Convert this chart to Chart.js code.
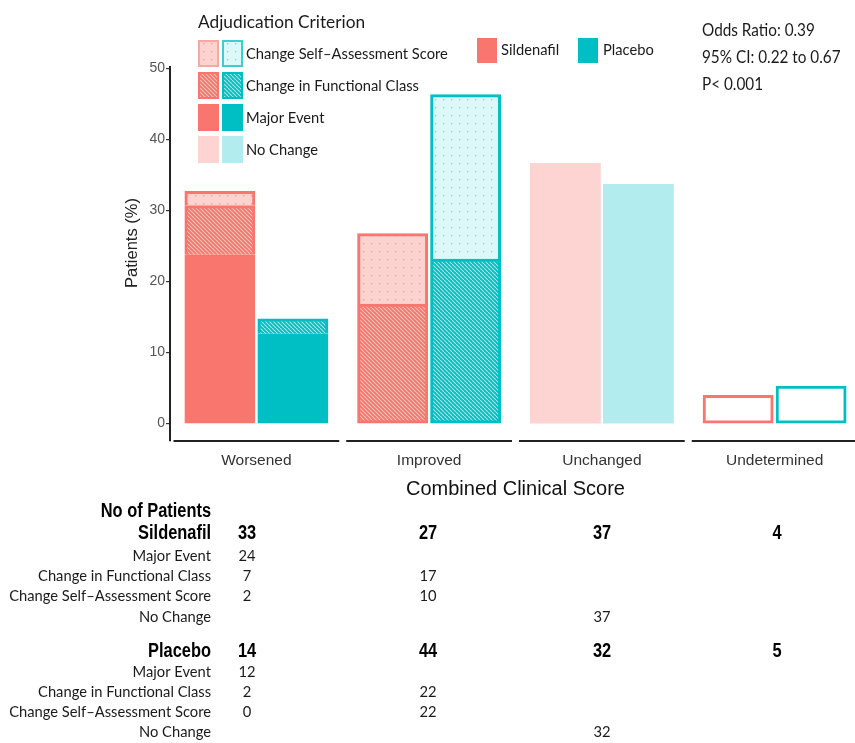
<!DOCTYPE html>
<html>
<head>
<meta charset="utf-8">
<script src="https://cdn.jsdelivr.net/npm/chart.js@4.4.1/dist/chart.umd.min.js"></script>
<style>
  html, body { margin: 0; padding: 0; background: #ffffff; overflow: hidden; }
  #wrap { position: absolute; left: 0; top: 0; width: 862px; height: 743px; }
</style>
</head>
<body>
<div id="wrap"><canvas id="chart" width="862" height="743"></canvas></div>
<script>
// ---- Data -------------------------------------------------------------
const categories = ['Worsened', 'Improved', 'Unchanged', 'Undetermined'];

// Number of patients, Sildenafil arm
const sildenafilTotal          = [33, 27, 37, 4];
const sildenafilMajorEvent     = [24, null, null, null];
const sildenafilFunctional     = [7, 17, null, null];
const sildenafilSelfAssessment = [2, 10, null, null];
const sildenafilNoChange       = [null, null, 37, null];
const sildenafilUndetermined   = [null, null, null, 4];

// Number of patients, Placebo arm
const placeboTotal          = [14, 44, 32, 5];
const placeboMajorEvent     = [12, null, null, null];
const placeboFunctional     = [2, 22, null, null];
const placeboSelfAssessment = [0, 22, null, null];
const placeboNoChange       = [null, null, 32, null];
const placeboUndetermined   = [null, null, null, 5];

const yTicks = [0, 10, 20, 30, 40, 50];
const criteriaLegend = ['Change Self\u2013Assessment Score', 'Change in Functional Class', 'Major Event', 'No Change'];
const tableRows = ['Major Event', 'Change in Functional Class', 'Change Self\u2013Assessment Score', 'No Change'];
const armNames = ['Sildenafil', 'Placebo'];
const oddsLines = ['Odds Ratio: 0.39', '95% CI: 0.22 to 0.67', 'P< 0.001'];

// ---- Styling ----------------------------------------------------------
const SIL = '#F8766D', PLA = '#00BFC4';
const SIL_LIGHT = '#FDD4D1', PLA_LIGHT = '#B3ECEE';
const HUMANIST = 'Lato, "Open Sans", sans-serif';
const ARIAL = '"Liberation Sans", Arial, sans-serif';
const TEXT = '#1a1a1a';
const HUM_SX = 0.92;   // horizontal squeeze for the condensed humanist labels

const scratch = document.createElement('canvas').getContext('2d');
function hasFont(name) {
  const s = 'No of Patients 0123456789';
  scratch.font = '20px monospace'; const a = scratch.measureText(s).width;
  scratch.font = '20px "' + name + '", monospace'; const b = scratch.measureText(s).width;
  scratch.font = '20px serif'; const c = scratch.measureText(s).width;
  scratch.font = '20px "' + name + '", serif'; const d = scratch.measureText(s).width;
  return a !== b || c !== d;
}
const NARROW_OK = hasFont('Liberation Sans Narrow');
const NARROW_FAMILY = NARROW_OK ? '"Liberation Sans Narrow"' : '"Liberation Sans", Arial';
const NARROW_SX = NARROW_OK ? 1 : 0.82;

function hatch(base, line) {
  const s = 4;
  const c = document.createElement('canvas');
  c.width = c.height = s;
  const g = c.getContext('2d');
  g.fillStyle = base; g.fillRect(0, 0, s, s);
  g.strokeStyle = line; g.lineWidth = 1.1;
  g.beginPath();
  for (const o of [-s, 0, s]) { g.moveTo(o, 0); g.lineTo(o + s, s); }
  g.stroke();
  return g.createPattern(c, 'repeat');
}
function dots(base, dot) {
  const s = 8;
  const c = document.createElement('canvas');
  c.width = c.height = s;
  const g = c.getContext('2d');
  g.fillStyle = base; g.fillRect(0, 0, s, s);
  g.fillStyle = dot; g.fillRect(3, 3, 1.4, 1.4);
  return g.createPattern(c, 'repeat');
}

const fills = {
  sil: { major: SIL, functional: hatch(SIL, '#FBC0BB'), self: dots('#FDD3D0', '#F19E98'), none: SIL_LIGHT, undet: '#ffffff' },
  pla: { major: PLA, functional: hatch(PLA, '#A3E6E8'), self: dots('#DDF8F9', '#86D5D8'), none: PLA_LIGHT, undet: '#ffffff' }
};

// ---- Datasets ---------------------------------------------------------
function armSize(totals) { return totals.reduce((a, b) => a + b, 0); }
const silN = armSize(sildenafilTotal);
const plaN = armSize(placeboTotal);
const toPct = (arr, n) => arr.map(v => (v == null || v === 0) ? null : v / n * 100);

function armDatasets(arm, stack, color, layers, n) {
  // layers listed bottom to top; a segment drops its bottom edge when something sits below it
  return layers.map((layer, li) => ({
    label: arm + ' ' + layer.name,
    stack: stack,
    data: toPct(layer.counts, n),
    backgroundColor: layer.fill,
    borderColor: color,
    borderSkipped: false,
    borderWidth: (ctx) => {
      if (layer.plain) return 0;
      const i = ctx.dataIndex;
      const below = layers.slice(0, li).some(l => l.counts[i]);
      return { top: 3, left: 3, right: 3, bottom: below ? 0 : 3 };
    },
    inflateAmount: 0.4,
    categoryPercentage: 0.845,
    barPercentage: 0.96
  }));
}

const datasets = [
  ...armDatasets('Sildenafil', 'sil', SIL, [
    { name: 'Major Event', counts: sildenafilMajorEvent, fill: fills.sil.major },
    { name: 'Change in Functional Class', counts: sildenafilFunctional, fill: fills.sil.functional },
    { name: 'Change Self-Assessment Score', counts: sildenafilSelfAssessment, fill: fills.sil.self },
    { name: 'No Change', counts: sildenafilNoChange, fill: fills.sil.none, plain: true },
    { name: 'Undetermined', counts: sildenafilUndetermined, fill: fills.sil.undet }
  ], silN),
  ...armDatasets('Placebo', 'pla', PLA, [
    { name: 'Major Event', counts: placeboMajorEvent, fill: fills.pla.major },
    { name: 'Change in Functional Class', counts: placeboFunctional, fill: fills.pla.functional },
    { name: 'Change Self-Assessment Score', counts: placeboSelfAssessment, fill: fills.pla.self },
    { name: 'No Change', counts: placeboNoChange, fill: fills.pla.none, plain: true },
    { name: 'Undetermined', counts: placeboUndetermined, fill: fills.pla.undet }
  ], plaN)
];

// ---- Drawing helpers ----------------------------------------------------
function text(ctx, str, x, y, font, color, align, sx) {
  ctx.save();
  ctx.font = font;
  ctx.fillStyle = color;
  ctx.textBaseline = 'middle';
  ctx.textAlign = align || 'left';
  if (sx && sx !== 1) {
    ctx.translate(x, y); ctx.scale(sx, 1); ctx.fillText(str, 0, 0);
  } else {
    ctx.fillText(str, x, y);
  }
  ctx.restore();
}
function key(ctx, x, y, w, h, fill, border, bw) {
  ctx.save();
  if (bw) {
    ctx.fillStyle = border; ctx.fillRect(x, y, w, h);
    ctx.fillStyle = fill; ctx.fillRect(x + bw, y + bw, w - 2 * bw, h - 2 * bw);
  } else {
    ctx.fillStyle = fill; ctx.fillRect(x, y, w, h);
  }
  ctx.restore();
}

// Per-category x axis segments, one per outcome panel
const panelAxes = {
  id: 'panelAxes',
  afterDatasetsDraw(chart) {
    const { ctx, chartArea, scales } = chart;
    const x = scales.x;
    const half = (x.getPixelForValue(1) - x.getPixelForValue(0)) / 2 - 3.5;
    ctx.save();
    ctx.strokeStyle = '#222';
    ctx.lineWidth = 2;
    categories.forEach((c, i) => {
      const cx = x.getPixelForValue(i);
      ctx.beginPath();
      ctx.moveTo(cx - half, chartArea.bottom);
      ctx.lineTo(cx + half, chartArea.bottom);
      ctx.stroke();
    });
    ctx.restore();
  }
};

// Legends, statistics and the patient-count table
const annotations = {
  id: 'annotations',
  afterDraw(chart) {
    const ctx = chart.ctx;

    // y axis title
    ctx.save();
    ctx.translate(132, 243);
    ctx.rotate(-Math.PI / 2);
    text(ctx, 'Patients (%)', 0, 0, '16.5px ' + ARIAL, '#222', 'center');
    ctx.restore();

    // criterion legend
    text(ctx, 'Adjudication Criterion', 198, 22, '18px ' + HUMANIST, TEXT, 'left', 0.96);
    const rowTop = [40, 72, 104, 136];
    const kh = 27, kw = 21;
    const keyStyles = [
      [[fills.sil.self, '#F6A8A2', 2], [fills.pla.self, '#3FCDD1', 2]],
      [[fills.sil.functional, SIL, 2], [fills.pla.functional, PLA, 2]],
      [[SIL, null, 0], [PLA, null, 0]],
      [[SIL_LIGHT, null, 0], [PLA_LIGHT, null, 0]]
    ];
    const labFont = '16px ' + HUMANIST;
    criteriaLegend.forEach((lab, r) => {
      const [s, p] = keyStyles[r];
      key(ctx, 198, rowTop[r], kw, kh, s[0], s[1], s[2]);
      key(ctx, 222, rowTop[r], kw, kh, p[0], p[1], p[2]);
      text(ctx, lab, 246, rowTop[r] + kh / 2, labFont, TEXT, 'left', HUM_SX);
    });

    // arm legend
    key(ctx, 477, 38, 20, 25, SIL);
    text(ctx, armNames[0], 501, 50, labFont, TEXT, 'left', HUM_SX);
    key(ctx, 578, 38, 20, 25, PLA);
    text(ctx, armNames[1], 603, 50, labFont, TEXT, 'left', HUM_SX);

    // odds ratio block
    oddsLines.forEach((l, i) => text(ctx, l, 702, 31 + i * 27, '17px ' + HUMANIST, TEXT, 'left', 0.9));

    // table of patient counts
    const colX = [247, 428, 602, 777];
    const labelX = 211;
    const boldFont = 'bold 20px ' + NARROW_FAMILY;
    text(ctx, 'No of Patients', labelX, 511, boldFont, '#000', 'right', NARROW_SX);

    const arms = [
      { name: armNames[0], y: 533, totals: sildenafilTotal,
        rows: [sildenafilMajorEvent, sildenafilFunctional, sildenafilSelfAssessment, sildenafilNoChange],
        rowY: [556, 576, 596, 617] },
      { name: armNames[1], y: 651, totals: placeboTotal,
        rows: [placeboMajorEvent, placeboFunctional, placeboSelfAssessment, placeboNoChange],
        rowY: [672, 692, 712, 732] }
    ];
    arms.forEach(a => {
      text(ctx, a.name, labelX, a.y, boldFont, '#000', 'right', NARROW_SX);
      a.totals.forEach((v, i) => text(ctx, String(v), colX[i], a.y, boldFont, '#000', 'center', NARROW_SX));
      tableRows.forEach((lab, r) => {
        text(ctx, lab, labelX, a.rowY[r], labFont, TEXT, 'right', HUM_SX);
        a.rows[r].forEach((v, i) => {
          if (v != null) text(ctx, String(v), colX[i], a.rowY[r], labFont, TEXT, 'center', HUM_SX);
        });
      });
    });
  }
};

new Chart(document.getElementById('chart'), {
  type: 'bar',
  data: { labels: categories, datasets: datasets },
  options: {
    responsive: false,
    devicePixelRatio: 1,
    animation: false,
    layout: { padding: { left: 112, top: 67, right: 1, bottom: 240 } },
    plugins: { legend: { display: false }, tooltip: { enabled: false } },
    scales: {
      x: {
        stacked: true,
        grid: { display: false, drawTicks: false },
        border: { display: false },
        ticks: { color: '#333', font: { family: ARIAL, size: 15.5 }, padding: 10 },
        title: { display: true, text: 'Combined Clinical Score', color: '#111',
                 font: { family: ARIAL, size: 20 }, padding: { top: 0, bottom: 2 } },
        afterFit(s) { s.height = 62; }
      },
      y: {
        stacked: true,
        min: -2.45,
        max: 50.2,
        afterBuildTicks(s) { s.ticks = yTicks.map(v => ({ value: v })); },
        border: { display: true, color: '#222', width: 2 },
        grid: { drawOnChartArea: false, drawTicks: true, tickLength: 4, color: '#333', lineWidth: 1.2 },
        ticks: { color: '#555', font: { family: ARIAL, size: 14 }, padding: 1 },
        afterFit(s) { s.width = 58; }
      }
    }
  },
  plugins: [panelAxes, annotations]
});
</script>
</body>
</html>
